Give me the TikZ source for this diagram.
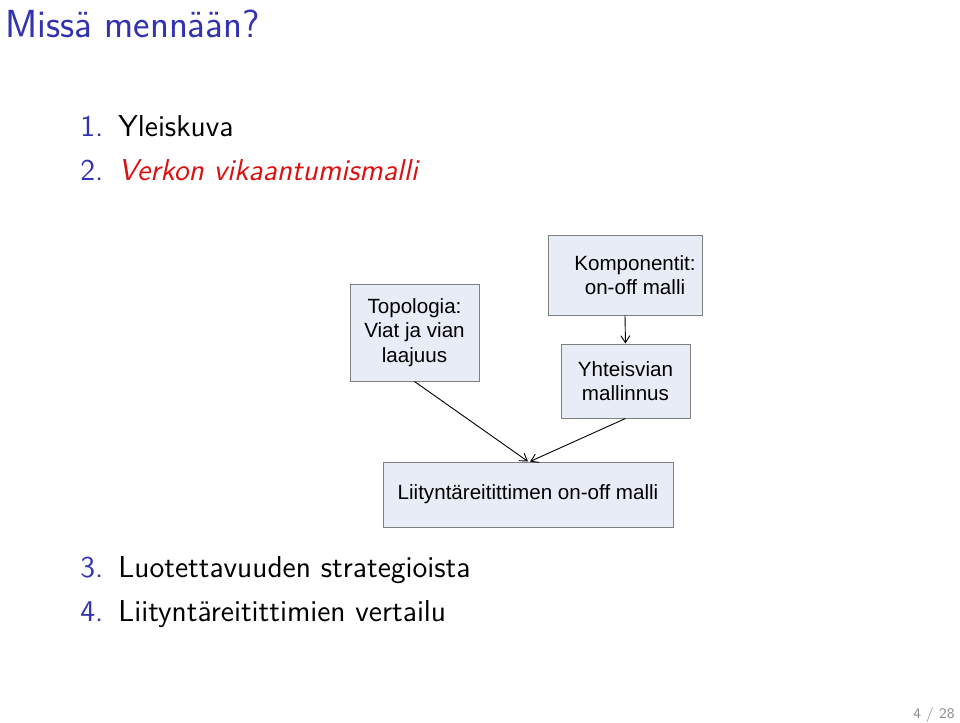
\documentclass[tikz,border=0pt]{standalone}
\usepackage{fontspec}
\newfontfamily\arialfont{Liberation Sans}
\usetikzlibrary{arrows.meta}
\definecolor{rakenne}{RGB}{51,51,178}
\definecolor{huomio}{RGB}{220,16,16}
\definecolor{laatikko}{RGB}{232,236,246}
\definecolor{reuna}{RGB}{128,128,128}
\definecolor{sivu}{RGB}{140,140,140}
\tikzset{
  blokki/.style={draw=reuna,fill=laatikko,line width=0.5pt,align=center,
    inner sep=0pt,font=\arialfont\fontsize{10.3}{12.3}\selectfont},
  nuoli/.style={-{Straight Barb[length=3.5pt,width=4.5pt]},line width=0.45pt},
  kohta/.style={anchor=base west,inner sep=0pt,
    font=\sffamily\fontsize{15.1}{17}\selectfont}
}
\begin{document}
\begin{tikzpicture}[x=0.5pt,y=-0.5pt]
  \useasboundingbox
    (0,0)
    rectangle
    (960,723);
  \node[anchor=base west,inner sep=0pt,text=rakenne,
    font=\sffamily\fontsize{19.6}{23}\selectfont] (otsikko)
    at (5,37) {Missä mennään?};
  \node[kohta,text=rakenne] (n1) at (80,136) {1.};
  \node[kohta] (k1) at (118,136) {Yleiskuva};
  \node[kohta,text=rakenne] (n2) at (80,180) {2.};
  \node[kohta,text=huomio] (k2) at (118,180) {\itshape Verkon vikaantumismalli};
  \node[kohta,text=rakenne] (n3) at (80,577) {3.};
  \node[kohta] (k3) at (118,577) {Luotettavuuden strategioista};
  \node[kohta,text=rakenne] (n4) at (80,621) {4.};
  \node[kohta] (k4) at (118,621) {Liityntäreitittimien vertailu};
  \node[anchor=base east,inner sep=0pt,text=sivu,
    font=\sffamily\fontsize{7.3}{9}\selectfont] (sivunro)
    at (955,718) {4 / 28};
  \node[blokki,minimum width=64.5pt,minimum height=48.5pt] (topo)
    at (414.5,332.5) {Topologia:\\Viat ja vian\\laajuus};
  \node[blokki,minimum width=77pt,minimum height=40pt] (komp)
    at (625,275) {\hspace*{10pt}Komponentit:\\\hspace*{10pt}on-off malli};
  \node[blokki,minimum width=64.5pt,minimum height=37pt] (yht)
    at (625.5,381) {Yhteisvian\\mallinnus};
  \node[blokki,minimum width=145pt,minimum height=32.5pt] (liit)
    at (528,494.5) {Liityntäreitittimen on-off malli};
  \draw[nuoli]
    (komp.south)
    --
    (yht.north);
  \draw[nuoli]
    (topo.south)
    --
    (liit.north);
  \draw[nuoli]
    (yht.south)
    --
    ([xshift=1pt]liit.north);
\end{tikzpicture}
\end{document}
